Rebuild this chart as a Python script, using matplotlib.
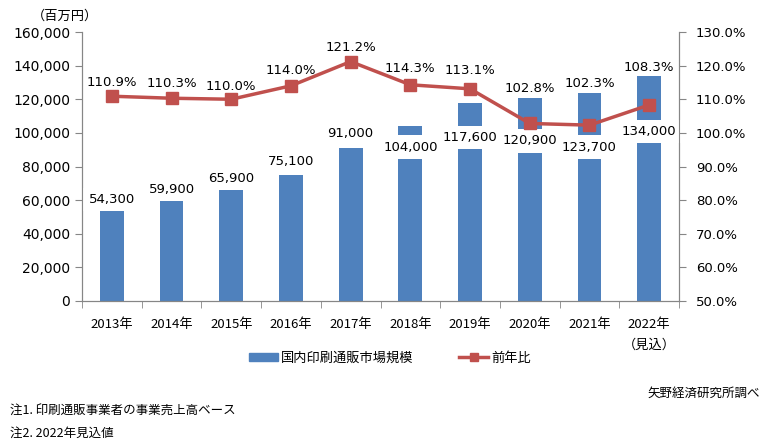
import numpy as np
import matplotlib
matplotlib.use("Agg")
import matplotlib.pyplot as plt
from matplotlib.lines import Line2D
from matplotlib.patches import Patch

plt.rcParams['font.family'] = ['DejaVu Sans', 'Noto Sans CJK JP']

years = ["2013年", "2014年", "2015年", "2016年", "2017年", "2018年",
         "2019年", "2020年", "2021年", "2022年\n（見込）"]
market = [54300, 59900, 65900, 75100, 91000, 104000, 117600, 120900, 123700, 134000]
yoy = [110.9, 110.3, 110.0, 114.0, 121.2, 114.3, 113.1, 102.8, 102.3, 108.3]

# label placement (pixel offsets from bar top / marker), as Excel placed them
bar_lbl_off = [10, 11, 12, 13, 15, -21, -34, -43, -54, -56]
pct_lbl_off = [14, 15, 13, 15, 14, 16, 18, 35, 42, 37]

BLUE = "#4F81BD"
RED = "#C0504D"
GRAY = "#868686"
JP = ['Noto Sans CJK JP', 'DejaVu Sans']

fig = plt.figure(figsize=(7.76, 4.44), dpi=100)
ax = fig.add_axes([82 / 776, 1 - 301 / 444, (679 - 82) / 776, (301 - 32) / 444])
ax2 = ax.twinx()

x = np.arange(len(years))
ax.bar(x, market, width=0.4, color=BLUE, zorder=2)
ax.set_xlim(-0.5, len(years) - 0.5)
ax.set_ylim(0, 160000)
ax.set_yticks(range(0, 160001, 20000))
ax.set_yticklabels([f"{v:,}" for v in range(0, 160001, 20000)], fontsize=10)

ax.set_xticks(x)
ax.set_xticklabels(years, fontsize=9.5, family=JP, linespacing=1.85)
ax.tick_params(axis='x', length=0, pad=12)
ax.set_xticks(np.arange(-0.5, len(years)), minor=True)
ax.tick_params(axis='x', which='minor', length=5, color=GRAY)
ax.tick_params(axis='y', length=5, color=GRAY)

for a in (ax, ax2):
    a.spines['top'].set_visible(False)
    for s in ('left', 'right', 'bottom'):
        a.spines[s].set_color(GRAY)

for xi, v, off in zip(x, market, bar_lbl_off):
    ax.annotate(f"{v:,}", (xi, v), xytext=(0, off), textcoords='offset pixels',
                ha='center', va='center', fontsize=9.5, zorder=3,
                bbox=dict(boxstyle='square,pad=0.4', fc='white', ec='none'))

ax2.plot(x, yoy, color=RED, lw=2.5, marker='s', ms=8, zorder=4)
ax2.set_ylim(50, 130)
ax2.set_yticks(range(50, 131, 10))
ax2.set_yticklabels([f"{v:.1f}%" for v in range(50, 131, 10)], fontsize=9.5)
ax2.tick_params(axis='y', length=5, color=GRAY, pad=7)
for xi, v, off in zip(x, yoy, pct_lbl_off):
    ax2.annotate(f"{v:.1f}%", (xi, v), xytext=(0, off), textcoords='offset pixels',
                 ha='center', va='center', fontsize=9.5)

fig.text(32 / 776, 1 - 16 / 444, "（百万円）", fontsize=9.5, family=JP, va='center')

handles = [Patch(color=BLUE),
           Line2D([0], [0], color=RED, lw=2.5, marker='s', ms=6)]
fig.legend(handles, ["国内印刷通販市場規模", "前年比"], loc='center',
           bbox_to_anchor=(390 / 776, 1 - 358 / 444), ncol=2, frameon=False,
           prop={'family': JP, 'size': 9.5}, handlelength=2.2, handleheight=0.5,
           columnspacing=3.5, handletextpad=0.2)

fig.text(760 / 776, 1 - 393 / 444, "矢野経済研究所調べ", fontsize=9, family=JP,
         ha='right', va='center')
fig.text(10 / 776, 1 - 411 / 444, "注1. 印刷通販事業者の事業売上高ベース", fontsize=9,
         family=JP, va='center')
fig.text(10 / 776, 1 - 433 / 444, "注2. 2022年見込値", fontsize=9, family=JP,
         va='center')

fig.savefig("out.png", dpi=100)
